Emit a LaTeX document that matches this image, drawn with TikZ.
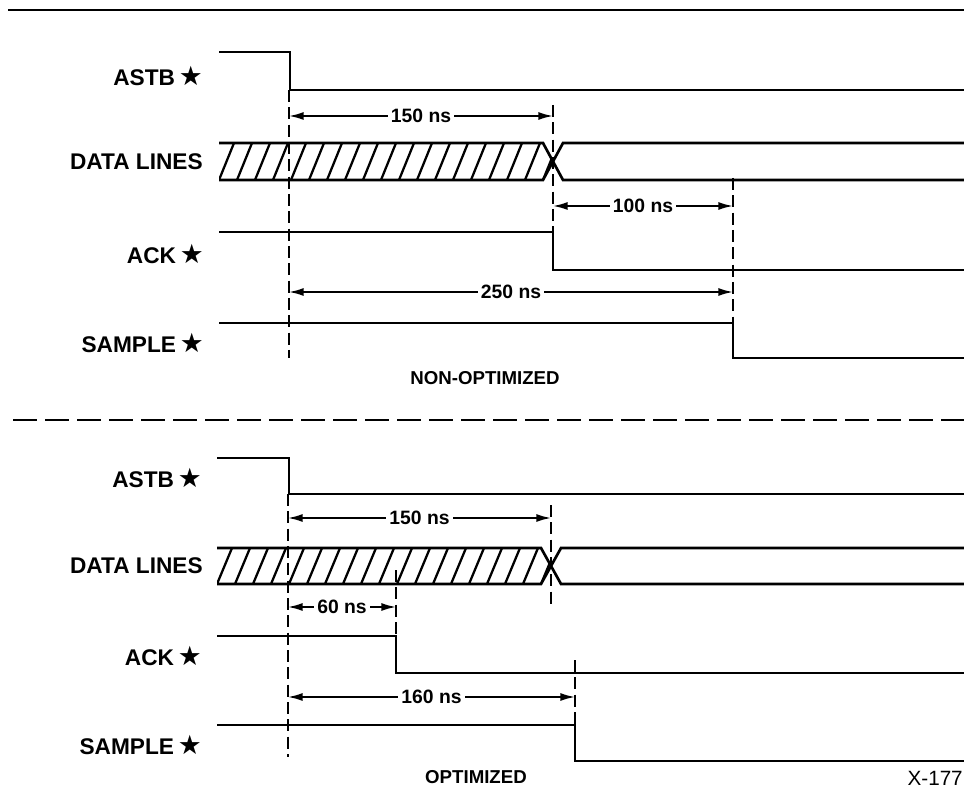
\documentclass[tikz,border=0pt]{standalone}
\usepackage{fontspec}
\setmainfont{Liberation Sans}
\newfontfamily\stfont{DejaVu Sans}
\usetikzlibrary{arrows.meta}
\tikzset{
  wave/.style={line width=2pt, line join=miter},
  vdash/.style={line width=1.4pt, dash pattern=on 9pt off 4pt},
  dim/.style={line width=1.3pt, {Latex[length=11pt,width=6pt]}-{Latex[length=11pt,width=6pt]}},
  dimlabel/.style={fill=white, inner sep=2.5pt, font=\fontsize{14.5}{16}\selectfont\bfseries},
  sig/.style={anchor=east, font=\fontsize{17}{19}\selectfont\bfseries, inner sep=0pt},
  captext/.style={font=\fontsize{14}{16}\selectfont\bfseries, inner sep=0pt},
  hatch/.style={line width=1.7pt},
  rulerline/.style={line width=2.2pt}
}
\newcommand{\actstar}{\,{\stfont\bfseries\fontsize{20}{20}\selectfont ★}}
\begin{document}
\begin{tikzpicture}[x=0.75pt,y=-0.75pt]
\useasboundingbox (0,0) rectangle (964,791);
% top rule and separator
\coordinate (r1a) at (8,10); \coordinate (r1b) at (964,10);
\draw[rulerline] (r1a) -- (r1b);
\coordinate (r2a) at (13,420); \coordinate (r2b) at (964,420);
\draw[rulerline, dash pattern=on 18pt off 6pt] (r2a) -- (r2b);

% ================= NON-OPTIMIZED =================
\node[sig] (astb1) at (203,76) {ASTB\actstar};
\node[sig] (data1) at (203,162) {DATA LINES};
\node[sig] (ack1) at (204,254) {ACK\actstar};
\node[sig] (samp1) at (204,343) {SAMPLE\actstar};
\node[captext] (nonopt) at (485,378) {NON-OPTIMIZED};

\draw[wave] (219,52) -- (290,52) -- (290,90) -- (964,90);
\begin{scope}
\clip (219,143) -- (543,143) -- (553,162) -- (543,180) -- (219,180) -- cycle;
\foreach \k in {0,...,18} \draw[hatch] ({219+18*\k},180) -- ({234+18*\k},143);
\end{scope}
\draw[wave] (219,143) -- (543,143) -- (563,180) -- (964,180);
\draw[wave] (219,180) -- (543,180) -- (563,143) -- (964,143);
\draw[wave] (219,232) -- (553,232) -- (553,270) -- (964,270);
\draw[wave] (219,323) -- (733,323) -- (733,358) -- (964,358);

\coordinate (a1top) at (289,90);  \coordinate (a1bot) at (289,358);
\coordinate (b1top) at (553,105); \coordinate (b1bot) at (553,232);
\coordinate (c1top) at (733,178); \coordinate (c1bot) at (733,323);
\draw[vdash] (a1top) -- (a1bot);
\draw[vdash] (b1top) -- (b1bot);
\draw[vdash] (c1top) -- (c1bot);

\coordinate (d150a) at (289,116); \coordinate (d150b) at (553,116);
\draw[dim] (d150a) -- node[dimlabel] (l150a) {150 ns} (d150b);
\coordinate (d100a) at (553,206); \coordinate (d100b) at (733,206);
\draw[dim] (d100a) -- node[dimlabel] (l100) {100 ns} (d100b);
\coordinate (d250a) at (289,292); \coordinate (d250b) at (733,292);
\draw[dim] (d250a) -- node[dimlabel] (l250) {250 ns} (d250b);

% ================= OPTIMIZED =================
\node[sig] (astb2) at (202,478) {ASTB\actstar};
\node[sig] (data2) at (203,566) {DATA LINES};
\node[sig] (ack2) at (202,656) {ACK\actstar};
\node[sig] (samp2) at (202,745) {SAMPLE\actstar};
\node[captext] (opt) at (476,777) {OPTIMIZED};
\node[anchor=east, inner sep=0pt, font=\fontsize{15.5}{17}\selectfont] (fig) at (963,778) {X-177};

\draw[wave] (217,458) -- (289,458) -- (289,494) -- (964,494);
\begin{scope}
\clip (217,548) -- (541,548) -- (551,566) -- (541,584) -- (217,584) -- cycle;
\foreach \k in {0,...,18} \draw[hatch] ({217+18*\k},584) -- ({232+18*\k},548);
\end{scope}
\draw[wave] (217,548) -- (541,548) -- (561,584) -- (964,584);
\draw[wave] (217,584) -- (541,584) -- (561,548) -- (964,548);
\draw[wave] (217,636) -- (396,636) -- (396,673) -- (964,673);
\draw[wave] (217,725) -- (575,725) -- (575,761) -- (964,761);

\coordinate (a2top) at (288,494); \coordinate (a2bot) at (288,757);
\coordinate (b2top) at (551,505); \coordinate (b2bot) at (551,605);
\coordinate (e2top) at (396,570); \coordinate (e2bot) at (396,636);
\coordinate (c2top) at (575,660); \coordinate (c2bot) at (575,725);
\draw[vdash] (a2top) -- (a2bot);
\draw[vdash] (b2top) -- (b2bot);
\draw[vdash] (e2top) -- (e2bot);
\draw[vdash] (c2top) -- (c2bot);

\coordinate (d150c) at (288,518); \coordinate (d150d) at (551,518);
\draw[dim] (d150c) -- node[dimlabel] (l150b) {150 ns} (d150d);
\coordinate (d60a) at (288,607); \coordinate (d60b) at (396,607);
\draw[dim] (d60a) -- node[dimlabel] (l60) {60 ns} (d60b);
\coordinate (d160a) at (288,697); \coordinate (d160b) at (575,697);
\draw[dim] (d160a) -- node[dimlabel] (l160) {160 ns} (d160b);
\end{tikzpicture}
\end{document}
